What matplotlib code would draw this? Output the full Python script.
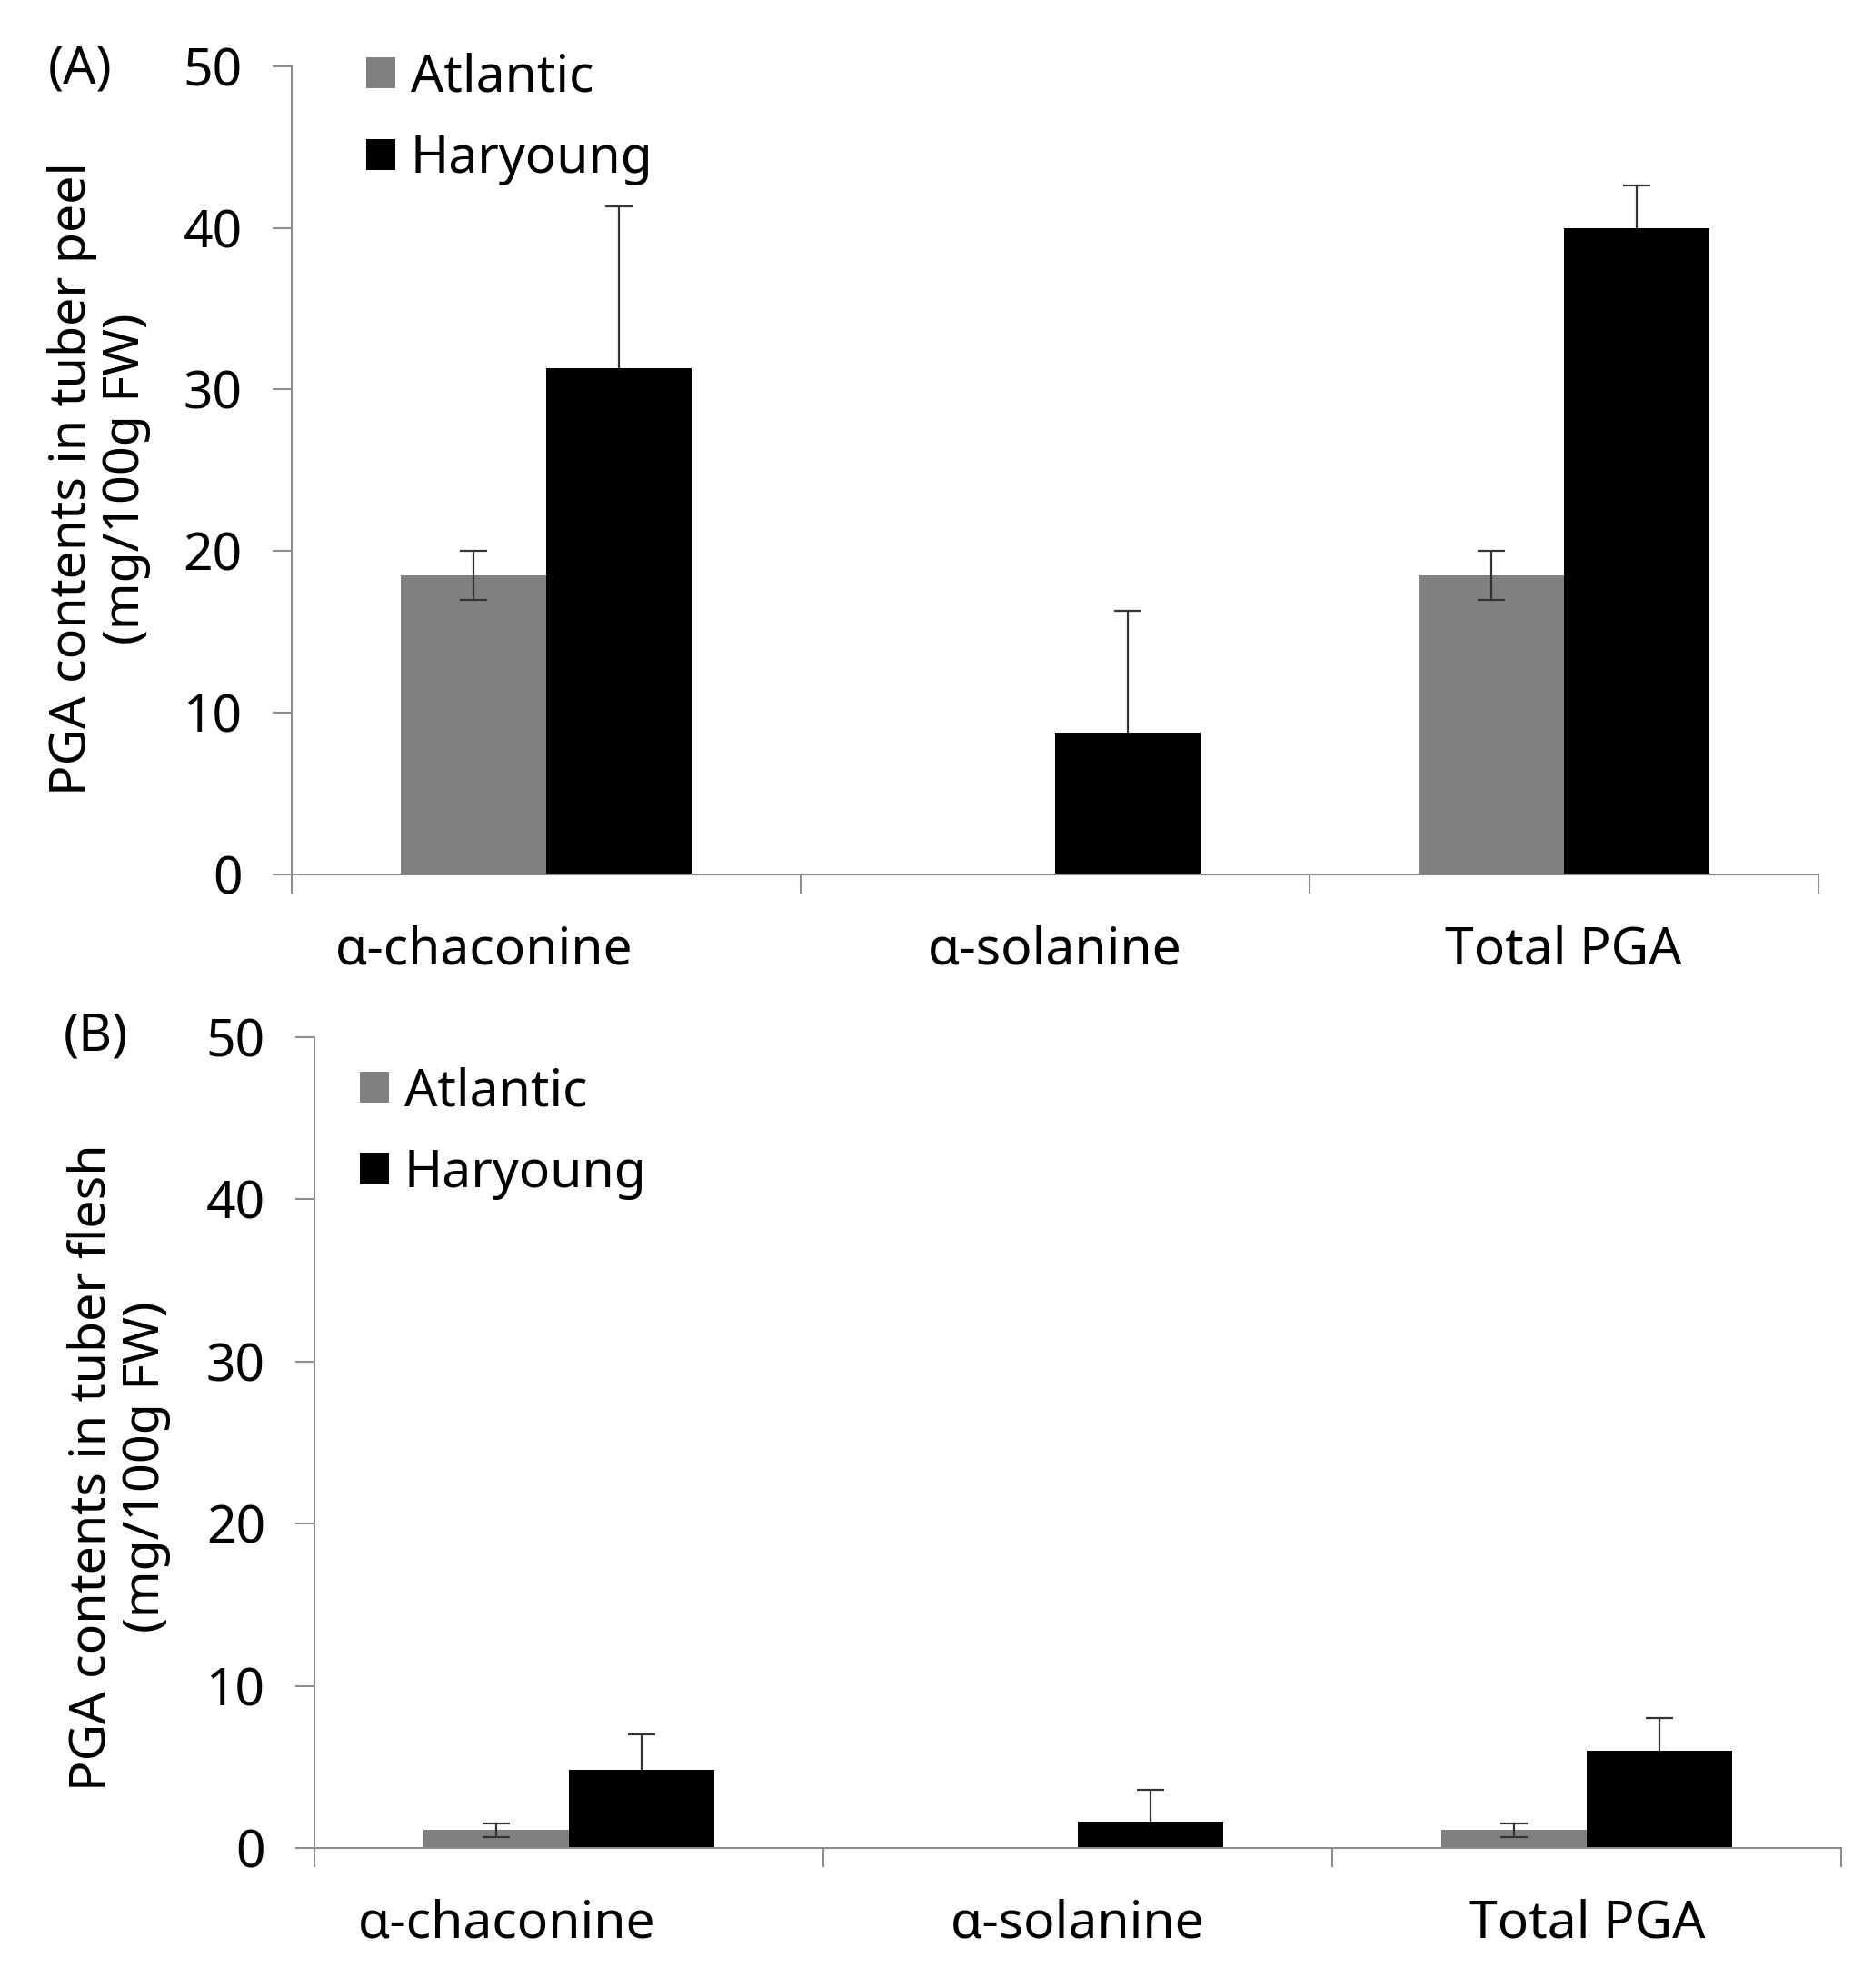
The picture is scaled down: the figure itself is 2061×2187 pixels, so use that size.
import numpy as np
import matplotlib
matplotlib.use("Agg")
import matplotlib.pyplot as plt
import matplotlib.transforms as mtransforms

plt.rcParams['font.family'] = ['Noto Sans', 'DejaVu Sans']

categories = ['α-chaconine', 'α-solanine', 'Total PGA']
series = ['Atlantic', 'Haryoung']

# (A) tuber peel
peel_atlantic = [18.5, 0.0, 18.5]
peel_atlantic_err = [1.5, 0.0, 1.5]
peel_haryoung = [31.3, 8.8, 40.0]
peel_haryoung_err = [10.0, 7.5, 2.6]

# (B) tuber flesh
flesh_atlantic = [1.1, 0.0, 1.1]
flesh_atlantic_err = [0.4, 0.0, 0.4]
flesh_haryoung = [4.8, 1.6, 6.0]
flesh_haryoung_err = [2.2, 2.0, 2.0]

yticks = [0, 10, 20, 30, 40, 50]

AXIS_GRAY = '#8c8c8c'
FS = 41

fig = plt.figure(figsize=(20.61, 21.87), dpi=100)
ax_a = fig.add_axes([0.1557, 0.560, 0.815, 0.4068])
ax_b = fig.add_axes([0.1679, 0.0704, 0.815, 0.4079])


def draw_panel(ax, atl, atl_err, har, har_err, ylabel, label_xy, leg_anchor):
    x = np.arange(len(categories))
    w = 0.286
    ax.bar(x - w / 2, atl, w, color='#808080', label=series[0], zorder=2)
    ax.bar(x + w / 2, har, w, color='#000000', label=series[1], zorder=2)
    # error bars (skip empty bars)
    for xi, v, e in zip(x - w / 2, atl, atl_err):
        if v > 0:
            ax.errorbar(xi, v, yerr=e, fmt='none', ecolor='#333333',
                        elinewidth=1.6, capsize=11, capthick=1.6, zorder=3)
    for xi, v, e in zip(x + w / 2, har, har_err):
        if v > 0:
            ax.errorbar(xi, v, yerr=e, fmt='none', ecolor='#333333',
                        elinewidth=1.6, capsize=11, capthick=1.6, zorder=1.5)

    ax.set_xlim(-0.5, len(categories) - 0.5)
    ax.set_ylim(0, 50)
    ax.set_yticks(yticks)
    ax.tick_params(axis='y', labelsize=FS, length=15, width=1.5,
                   color=AXIS_GRAY, pad=24)
    ax.set_xticks(x)
    ax.set_xticklabels(categories)
    ax.set_xticks(np.arange(len(categories) + 1) - 0.5, minor=True)
    ax.tick_params(axis='x', which='major', labelsize=FS, length=0, pad=40)
    ax.tick_params(axis='x', which='minor', length=15, width=1.5,
                   color=AXIS_GRAY)
    # first label sits a bit left of its category in the original
    lbl = ax.get_xticklabels()[0]
    lbl.set_transform(lbl.get_transform() +
                      mtransforms.ScaledTranslation(-0.68, 0, fig.dpi_scale_trans))

    for s in ['top', 'right']:
        ax.spines[s].set_visible(False)
    for s in ['left', 'bottom']:
        ax.spines[s].set_color(AXIS_GRAY)
        ax.spines[s].set_linewidth(1.5)

    ax.set_ylabel(ylabel, fontsize=40, linespacing=1.1)
    ax.yaxis.set_label_coords(*label_xy)

    ax.legend(loc='upper left', bbox_to_anchor=leg_anchor, frameon=False,
              fontsize=FS, handlelength=0.55, handleheight=0.55,
              handletextpad=0.3, labelspacing=0.57, borderpad=0,
              borderaxespad=0)


draw_panel(ax_a, peel_atlantic, peel_atlantic_err, peel_haryoung,
           peel_haryoung_err, 'PGA contents in tuber peel\n(mg/100g FW)',
           (-0.092, 0.49), (0.049, 1.017))
draw_panel(ax_b, flesh_atlantic, flesh_atlantic_err, flesh_haryoung,
           flesh_haryoung_err, 'PGA contents in tuber flesh\n(mg/100g FW)',
           (-0.094, 0.47), (0.030, 0.964))

fig.text(53 / 2061, 1 - 77 / 2187, '(A)', fontsize=FS, va='center')
fig.text(70 / 2061, 1 - 1141 / 2187, '(B)', fontsize=FS, va='center')

fig.savefig('out.png', dpi=100)
